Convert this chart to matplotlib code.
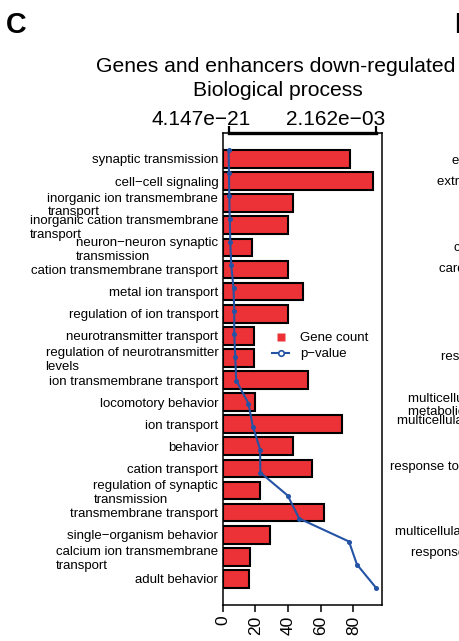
import matplotlib
matplotlib.use("Agg")
import matplotlib.pyplot as plt
from matplotlib.lines import Line2D
from matplotlib.transforms import ScaledTranslation

plt.rcParams['font.family'] = ['Liberation Sans', 'DejaVu Sans']

# GO biological process terms, gene counts and p-values
categories = [
    "synaptic transmission",
    "cell\u2212cell signaling",
    "inorganic ion transmembrane\ntransport",
    "inorganic cation transmembrane\ntransport",
    "neuron\u2212neuron synaptic\ntransmission",
    "cation transmembrane transport",
    "metal ion transport",
    "regulation of ion transport",
    "neurotransmitter transport",
    "regulation of neurotransmitter\nlevels",
    "ion transmembrane transport",
    "locomotory behavior",
    "ion transport",
    "behavior",
    "cation transport",
    "regulation of synaptic\ntransmission",
    "transmembrane transport",
    "single\u2212organism behavior",
    "calcium ion transmembrane\ntransport",
    "adult behavior",
]
gene_count = [78, 92, 43, 40, 18, 40, 49, 40, 19, 19,
              52, 20, 73, 43, 55, 23, 62, 29, 17, 16]
p_value = [4.147e-21, 5.8e-6, 1.0e-5, 1.75e-5, 2.5e-5, 3.9e-5, 7.3e-5, 8.3e-5,
           8.3e-5, 9.8e-5, 1.12e-4, 2.92e-4, 3.56e-4, 4.63e-4, 4.66e-4,
           8.68e-4, 1.037e-3, 1.768e-3, 1.885e-3, 2.162e-3]
count_ticks = [0, 20, 40, 60, 80]
legend_labels = ["Gene count", "p\u2212value"]

# neighbouring panel D (its term labels run off the right edge)
panel_d_terms = [
    "extracellular matrix organization",
    "extracellular structure organization",
    "circulatory system process",
    "cardiac muscle contraction",
    "response to wounding",
    "multicellular organismal\nmetabolic process",
    "multicellular organismal process",
    "response to external stimulus",
    "multicellular organism development",
    "response to stimulus",
]

W, H = 460, 641
BAR_RED = "#EC3237"
LINE_BLUE = "#2453A5"

fig = plt.figure(figsize=(W / 100, H / 100), dpi=100)
rect = [222.7 / W, 1 - 605 / H, 159 / W, 472 / H]

# gene-count bars
ax = fig.add_axes(rect)
n = len(categories)
ax.barh(range(n), gene_count, height=0.8, color=BAR_RED,
        edgecolor="black", linewidth=1.5)
ax.set_xlim(0, 97.4)
ax.set_ylim(20.18, -1.176)
ax.set_yticks(range(n), categories)
for lab in ax.get_yticklabels():
    lab.set_multialignment("left")
ax.tick_params(axis="y", length=0, pad=3.2, labelsize=9.5)
ax.set_xticks(count_ticks)
ax.tick_params(axis="x", length=4.8, width=1.1, pad=3, labelsize=12.5,
               labelrotation=90)
for sp in ax.spines.values():
    sp.set_linewidth(1.1)

# p-value line on its own top axis
ax2 = fig.add_axes(rect)
ax2.patch.set_visible(False)
pmin, pmax = min(p_value), max(p_value)
pr = pmax - pmin
ax2.set_xlim(pmin - 0.04 * pr, pmax + 0.04 * pr)
ax2.set_ylim(n + 0.76, 0.24)
ax2.plot(p_value, range(1, n + 1), color=LINE_BLUE, lw=1.5,
         marker="o", ms=2.6)
for side in ("left", "right", "bottom"):
    ax2.spines[side].set_visible(False)
ax2.spines["top"].set_bounds(pmin, pmax)
ax2.spines["top"].set_linewidth(2.4)
ax2.set_yticks([])
ax2.xaxis.tick_top()
ax2.set_xticks([pmin, pmax], ["", ""])
ax2.tick_params(axis="x", top=True, bottom=False, length=5, width=1.6)
for p, dx in zip((pmin, pmax), (-19.8, -28.6)):
    txt = f"{p:.3e}".replace("-", "\u2212")
    ax2.text(p, 1, txt, fontsize=15, ha="center", va="baseline",
             transform=ax2.get_xaxis_transform()
             + ScaledTranslation(dx / 72, 5.8 / 72, fig.dpi_scale_trans))

handles = [
    Line2D([], [], ls="none", marker="s", ms=5.5, mfc=BAR_RED, mec="none"),
    Line2D([], [], color=LINE_BLUE, lw=1.5, marker="o", ms=4,
           mfc="white", mec=LINE_BLUE, mew=1.2),
]
ax2.legend(handles, legend_labels, loc="upper left",
           bbox_to_anchor=(272 / W, 1 - 332 / H),
           bbox_transform=fig.transFigure, frameon=False, borderpad=0,
           borderaxespad=0, handlelength=1.3, handletextpad=0.8,
           labelspacing=0.3, fontsize=9.5)

# titles and panel letters
fig.text(275.9 / W, 1 - 72.5 / H, "Genes and enhancers down-regulated",
         ha="center", va="baseline", fontsize=15.2)
fig.text(278.3 / W, 1 - 95.5 / H, "Biological process",
         ha="center", va="baseline", fontsize=15.2)
fig.text(6 / W, 1 - 33.3 / H, "C", fontsize=20.7, fontweight="bold",
         va="baseline")
fig.text(454 / W, 1 - 33.3 / H, "D", fontsize=20.7, fontweight="bold",
         va="baseline")

d_x = [451.7, 436.7, 454.3, 439, 441, 407.7, 397.3, 390, 395, 411]
d_y = [160.7, 181.7, 248.3, 269.3, 356.7, 405.2, 421, 466.7, 531.7, 552.7]
for s, x, y in zip(panel_d_terms, d_x, d_y):
    fig.text(x / W, 1 - y / H, s, ha="left", va="center", fontsize=9.5,
             multialignment="left", linespacing=1.15)

fig.savefig("out.png", dpi=100)
